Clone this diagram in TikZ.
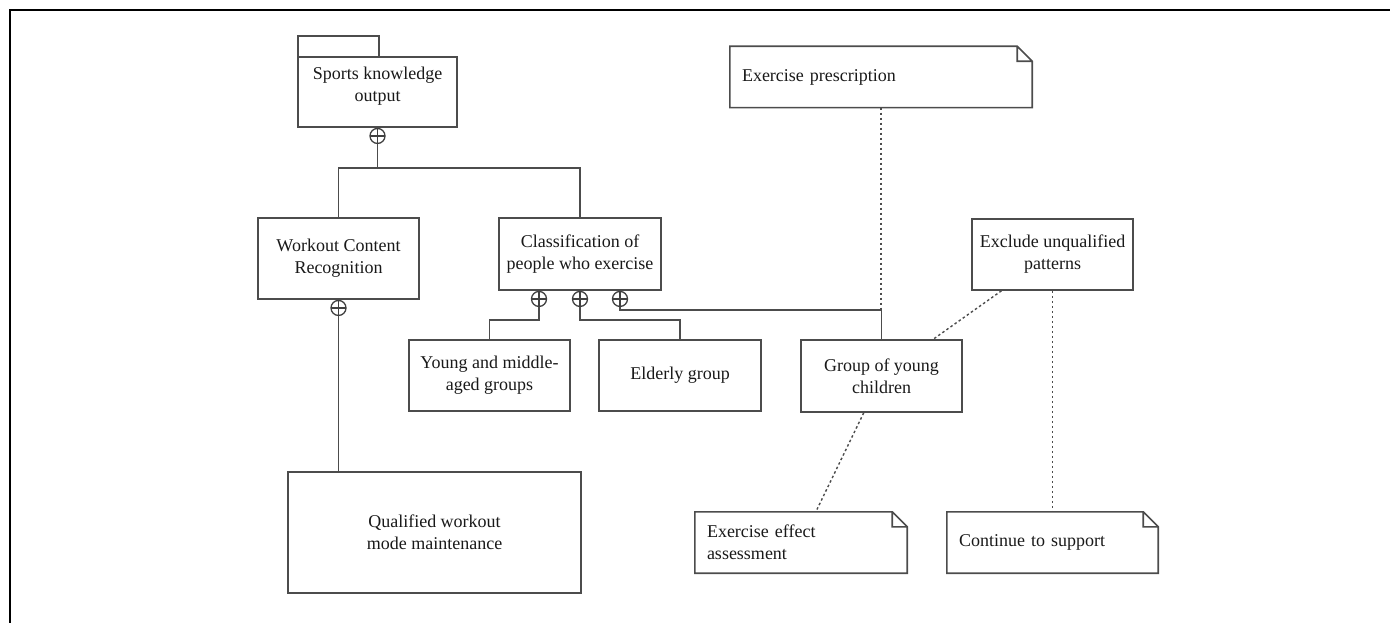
\documentclass[tikz,border=0pt]{standalone}
\usepackage{fontspec}
\setmainfont{Liberation Serif}

\begin{document}
\begin{tikzpicture}[x=1pt,y=-1pt]
        \tikzset{every node/.style={font=\fontsize{18}{22}\selectfont, text=black!90},
            box/.style={rectangle, draw=black!70, line width=1.6pt, align=center, inner sep=2pt},
            notebox/.style={rectangle, align=left, inner xsep=12pt, inner ysep=0pt, minimum height=61pt},
            oplus/.style={circle, draw=black!75, line width=1.3pt, minimum size=15pt, inner sep=0pt,
                path picture={\draw[black!75, line width=1.3pt]
                    (path picture bounding box.north) -- (path picture bounding box.south)
                    (path picture bounding box.west) -- (path picture bounding box.east);}},
            link/.style={draw=black!70, line width=1.6pt},
            trace/.style={draw=black!70, line width=1.4pt, dash pattern=on 2.5pt off 2.5pt}}
        \useasboundingbox (0,0) rectangle (1390,623);
        \draw[line width=2pt] (9.5,623) -- (9.5,10.5) -- (1390,10.5);
        % package and boxes
        \node[box, minimum width=81pt, minimum height=21pt] (tab) at (338.5,46.5) {};
        \node[box, minimum width=159pt, minimum height=70pt, text depth=16pt] (sports) at (377.5,92) {Sports knowledge\\output};
        \node[box, minimum width=161pt, minimum height=81pt] (workout) at (338.5,258.5) {Workout Content\\Recognition};
        \node[box, minimum width=162pt, minimum height=72pt] (classif) at (580,254) {Classification of\\people who exercise};
        \node[box, minimum width=161pt, minimum height=71pt] (young) at (489.5,375.5) {Young and middle-\\aged groups};
        \node[box, minimum width=162pt, minimum height=71pt] (elderly) at (680,375.5) {Elderly group};
        \node[box, minimum width=161pt, minimum height=72pt] (group) at (881.5,376) {Group of young\\children};
        \node[box, minimum width=161pt, minimum height=71pt] (exclude) at (1052.5,254.5) {Exclude unqualified\\patterns};
        \node[box, minimum width=293pt, minimum height=121pt] (qualified) at (434.5,532.5) {Qualified workout\\mode maintenance};
        % notes
        \node[notebox, text width=278pt] (presc) at (881,77) {Exercise prescription};
        \node[notebox, text width=188pt] (effect) at (801,542.5) {Exercise effect\\assessment};
        \node[notebox, text width=187pt] (support) at (1052.5,542.5) {Continue to support};
        \foreach \n in {presc,effect,support}
            \draw[link] (\n.south west) -- (\n.north west) -- ([xshift=-15pt]\n.north east)
                -- ([yshift=-15pt]\n.north east) -- (\n.south east) -- cycle
                ([xshift=-15pt]\n.north east) |- ([yshift=-15pt]\n.north east);
        % composition marks
        \node[oplus, anchor=north] (op1) at (sports.south) {};
        \node[oplus, anchor=north] (op2) at (workout.south) {};
        \node[oplus, anchor=north] (opa) at ([xshift=-41pt]classif.south) {};
        \node[oplus, anchor=north] (opb) at (classif.south) {};
        \node[oplus, anchor=north] (opc) at ([xshift=40pt]classif.south) {};
        \coordinate (bus) at (0,168);
        \coordinate (busb) at (0,320);
        \coordinate (busc) at (0,310);
        % connectors
        \draw[link] (op1.south) -- (op1 |- bus) -| (workout.north);
        \draw[link] (op1 |- bus) -| (classif.north);
        \draw[link] (op2.south) -- (op2.south |- qualified.north);
        \draw[link] (opa.south) -- (opa |- busb) -| (young.north);
        \draw[link] (opb.south) -- (opb |- busb) -| (elderly.north);
        \draw[link] (opc.south) -- (opc |- busc) -| (group.north);
        \draw[trace] (presc.south) -- (presc.south |- busc);
        \draw[trace] (exclude) -- (group);
        \draw[trace] (group) -- (effect);
        \draw[trace] (exclude) -- (support);
    \end{tikzpicture}
\end{document}
